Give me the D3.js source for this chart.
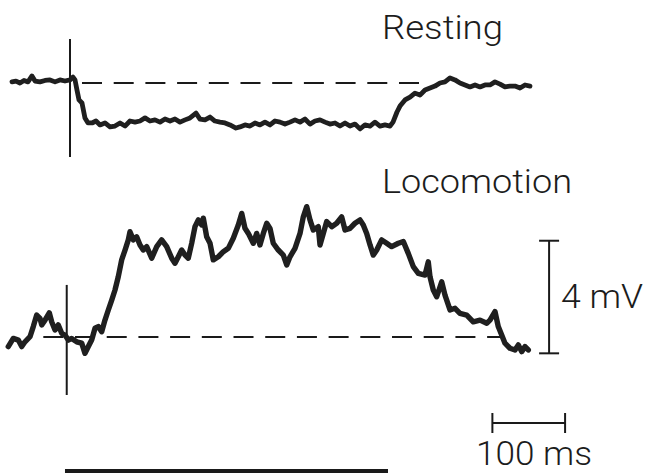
<!DOCTYPE html>
<html><head><meta charset="utf-8">
<script src="https://cdn.jsdelivr.net/npm/d3@7"></script>
<style>
body{margin:0;background:#fff}
svg{display:block}
text{font-family:Roboto,"Liberation Sans",Arial,sans-serif;font-weight:300;fill:#1c1c1c}
</style>
</head><body><svg id="c" width="661" height="473"></svg>
<script>
// ---- data (time in ms relative to stimulus of the resting trace, membrane potential in mV relative to baseline)
const restingTime = [-79.8,-74.3,-68.8,-63.3,-57.8,-52.3,-48.1,-41.3,-34.4,-27.5,-20.6,-13.8,-6.9,0,4.1,6.9,9.6,12.4,16.5,20.6,24.8,30.3,35.8,41.3,48.1,55.0,61.9,68.8,75.7,82.5,89.4,96.3,103.2,110.0,116.9,123.8,130.7,137.6,144.4,151.3,158.2,165.1,173.3,178.8,185.7,192.6,199.4,206.3,213.2,220.1,228.3,233.8,240.7,247.6,254.5,261.3,268.2,275.1,282.0,288.9,295.7,302.6,309.5,316.4,323.2,330.1,337.0,343.9,350.8,357.6,364.5,371.4,378.3,385.1,392.0,398.9,405.8,412.7,419.5,426.4,433.3,440.2,444.3,449.8,453.9,460.8,467.7,474.5,481.4,488.3,495.2,502.1,508.9,515.8,522.7,529.6,536.4,543.3,550.2,557.1,564.0,570.8,577.7,584.6,591.5,598.3,605.2,612.1,619.0,625.9,632.7];
const restingMV = [0.04,0.07,0,0.09,0.04,0.25,0.07,0.04,0.09,0.11,0.04,0.11,0.07,0.11,0.21,0.11,-0.25,-0.60,-0.71,-1.24,-1.42,-1.42,-1.35,-1.49,-1.42,-1.56,-1.53,-1.42,-1.53,-1.35,-1.39,-1.35,-1.24,-1.35,-1.31,-1.39,-1.28,-1.35,-1.28,-1.39,-1.31,-1.24,-1.07,-1.28,-1.31,-1.21,-1.35,-1.39,-1.42,-1.49,-1.60,-1.56,-1.49,-1.53,-1.42,-1.49,-1.39,-1.49,-1.35,-1.39,-1.46,-1.39,-1.31,-1.39,-1.28,-1.46,-1.35,-1.31,-1.39,-1.46,-1.42,-1.53,-1.42,-1.53,-1.46,-1.63,-1.49,-1.53,-1.39,-1.53,-1.49,-1.53,-1.39,-1.03,-0.82,-0.60,-0.50,-0.36,-0.43,-0.25,-0.18,-0.11,0,0.04,0.18,0.11,0,-0.07,-0.14,-0.07,-0.14,-0.07,-0.07,0.04,-0.04,-0.14,-0.11,-0.11,-0.18,-0.07,-0.11];

const locomotionTime = [-84.9,-78.0,-71.1,-66.4,-61.9,-55.0,-50.5,-45.8,-41.3,-38.9,-34.4,-28.5,-25.2,-20.6,-16.1,-11.4,-6.9,-2.3,2.3,9.2,16.1,20.6,25.2,29.8,34.4,38.9,43.6,48.1,52.7,57.4,61.9,66.4,71.1,75.7,80.2,82.5,87.1,91.7,96.3,100.8,105.5,112.4,119.3,126.1,133.0,139.9,144.4,149.0,153.6,158.2,162.7,167.4,171.9,176.5,181.2,183.4,188.0,192.6,197.1,204.0,210.9,217.7,224.6,231.5,236.2,240.7,245.3,252.1,256.8,261.3,265.9,270.6,275.1,279.6,286.5,293.4,298.1,302.6,309.5,316.4,320.9,325.6,330.1,334.7,341.5,343.9,348.4,353.1,360.0,366.8,373.7,378.3,385.1,392.0,398.9,403.4,408.1,412.7,417.2,421.9,428.7,435.6,442.5,451.6,458.5,465.3,472.2,479.1,488.3,492.8,495.2,499.7,504.4,511.3,515.8,522.7,529.6,536.4,545.7,554.7,564.0,573.2,577.7,584.6,589.1,593.8,598.3,605.2,612.1,616.7,621.3,625.9,630.4];
const locomotionMV = [-0.34,-0.05,-0.11,-0.34,-0.17,0.01,0.37,0.78,0.66,0.43,0.60,0.86,0.54,0.25,0.43,0.13,0.07,-0.11,-0.05,-0.17,-0.22,-0.58,-0.34,-0.11,0.31,0.37,0.19,0.60,0.96,1.31,1.67,2.14,2.74,3.09,3.45,3.74,3.45,3.56,3.27,3.09,3.21,2.80,3.21,3.45,3.21,2.80,2.62,2.85,3.09,2.91,2.80,3.33,3.92,4.16,3.98,4.22,3.56,3.33,2.74,2.85,3.03,3.15,3.51,3.98,4.39,3.86,3.68,3.33,3.68,3.27,3.68,4.04,3.86,3.33,3.09,2.91,2.56,2.85,3.15,3.68,4.27,4.63,4.16,3.80,3.92,3.27,3.68,4.10,3.92,4.04,4.27,3.80,3.86,4.04,4.16,3.98,3.68,3.27,2.91,3.09,3.45,3.33,3.21,3.33,3.39,2.97,2.50,2.26,2.20,2.67,2.14,1.67,1.43,1.96,1.49,0.96,1.02,0.84,0.78,0.54,0.60,0.49,0.60,0.90,0.37,0.07,-0.22,-0.40,-0.46,-0.28,-0.52,-0.34,-0.46];

const traceLabels = ["Resting", "Locomotion"];
const stimulusTimes = [0, -4.5];                 // ms, vertical stimulus markers
const stimulusSpanMV = [[-2.63, 1.56], [-2.06, 1.85]];
const baselineSpanMS = [[16.5, 481.4], [-36.7, 598.3]];
const timeBarStartMS = 581, timeBarMS = 100;       // "100 ms"
const voltBarAtMS = 659, voltBarStartMV = -0.58, voltBarMV = 4; // "4 mV"
const bottomBarMS = [-6.9, 437.4];
const scaleLabels = ["4 mV", "100 ms"];

// ---- scales
const svg = d3.select("#c");
const x = d3.scaleLinear().domain([0, 100]).range([70, 142.7]);
const yRest = d3.scaleLinear().domain([0, 4]).range([83, 83 - 112.6]);
const yLoco = d3.scaleLinear().domain([0, 4]).range([337, 337 - 112.6]);
const yScales = [yRest, yLoco];
const ink = "#1a1a1a";

// baselines (dashed)
baselineSpanMS.forEach((s, i) => {
  svg.append("line")
    .attr("x1", x(s[0])).attr("x2", x(s[1]))
    .attr("y1", yScales[i](0)).attr("y2", yScales[i](0))
    .attr("stroke", ink).attr("stroke-width", 2)
    .attr("stroke-dasharray", "20 11.7");
});

// stimulus markers
stimulusTimes.forEach((t, i) => {
  svg.append("line")
    .attr("x1", x(t)).attr("x2", x(t))
    .attr("y1", yScales[i](stimulusSpanMV[i][1])).attr("y2", yScales[i](stimulusSpanMV[i][0]))
    .attr("stroke", ink).attr("stroke-width", 2);
});

// traces
const traces = [
  {t: restingTime, v: restingMV, y: yRest, w: 4.8},
  {t: locomotionTime, v: locomotionMV, y: yLoco, w: 5.4}
];
traces.forEach(tr => {
  const pts = tr.t.map((t, i) => [t, tr.v[i]]);
  const line = d3.line().x(d => x(d[0])).y(d => tr.y(d[1]));
  svg.append("path").datum(pts)
    .attr("d", line)
    .attr("fill", "none").attr("stroke", "#1f1f1f")
    .attr("stroke-width", tr.w)
    .attr("stroke-linejoin", "round").attr("stroke-linecap", "round");
});

// trace labels
const labelPos = [[382, 39, 121], [382, 193, 190]];
traceLabels.forEach((s, i) => {
  svg.append("text").attr("x", labelPos[i][0]).attr("y", labelPos[i][1])
    .attr("font-size", 34).attr("textLength", labelPos[i][2]).attr("lengthAdjust", "spacingAndGlyphs")
    .text(s);
});

// voltage scale bar
const vx = x(voltBarAtMS);
const vy0 = yLoco(voltBarStartMV), vy1 = yLoco(voltBarStartMV + voltBarMV);
const sb = svg.append("g").attr("stroke", ink).attr("stroke-width", 2);
sb.append("line").attr("x1", vx).attr("x2", vx).attr("y1", vy0).attr("y2", vy1);
[vy0, vy1].forEach(yy => sb.append("line").attr("x1", vx - 10).attr("x2", vx + 10).attr("y1", yy).attr("y2", yy));
svg.append("text").attr("x", 561).attr("y", 308).attr("font-size", 34)
  .attr("textLength", 82).attr("lengthAdjust", "spacingAndGlyphs").text(scaleLabels[0]);

// time scale bar
const tx0 = x(timeBarStartMS), tx1 = x(timeBarStartMS + timeBarMS), ty = 423;
sb.append("line").attr("x1", tx0).attr("x2", tx1).attr("y1", ty).attr("y2", ty);
[tx0, tx1].forEach(xx => sb.append("line").attr("x1", xx).attr("x2", xx).attr("y1", ty - 10).attr("y2", ty + 10));
svg.append("text").attr("x", 476).attr("y", 465).attr("font-size", 33)
  .attr("textLength", 116).attr("lengthAdjust", "spacingAndGlyphs").text(scaleLabels[1]);

// bottom bar
svg.append("rect").attr("x", x(bottomBarMS[0])).attr("width", x(bottomBarMS[1]) - x(bottomBarMS[0]))
  .attr("y", 469).attr("height", 4).attr("fill", "#1a1a1a");
</script>
</body></html>
